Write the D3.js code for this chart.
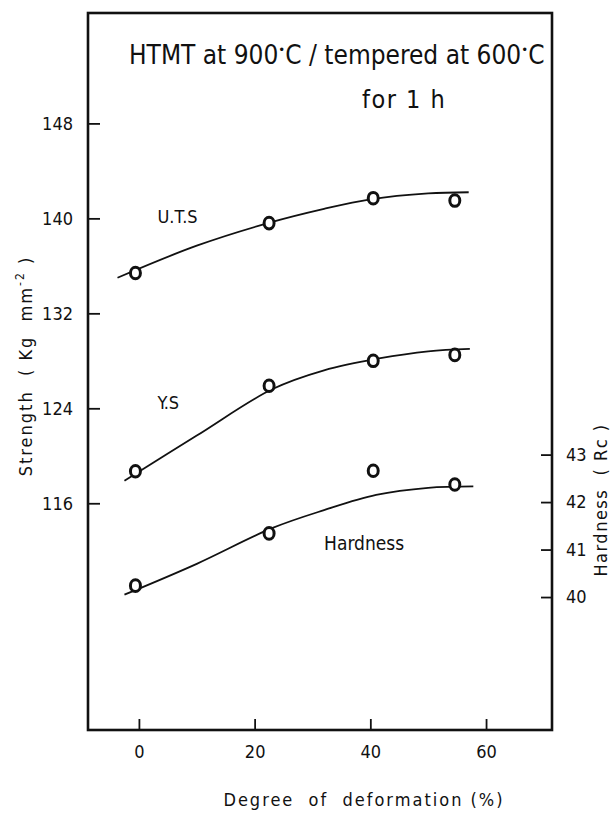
<!DOCTYPE html>
<html>
<head>
<meta charset="utf-8">
<script src="https://cdn.jsdelivr.net/npm/d3@7"></script>
<style>
  body { margin: 0; background: #fff; }
  svg text { font-family: "DejaVu Sans Condensed", "Liberation Sans Narrow", sans-serif; fill: #111; }
</style>
</head>
<body>
<svg width="614" height="814"></svg>
<script>
// degree of deformation (%) for the measured points
let deformation = [-0.6, 22.5, 40.5, 54.6]
let uts = [135.4, 139.6, 141.7, 141.5]
let ys = [118.7, 125.9, 128.0, 128.5]
let hardness = [40.24, 41.34, 42.66, 42.37]

// hand drawn trend curves
let utsCurve = [[-3.7, 135.0], [10, 137.7], [22.3, 139.6], [32, 140.8], [40, 141.6], [50, 142.1], [57, 142.2]]
let ysCurve = [[-2.5, 117.9], [10, 121.7], [23, 125.6], [32, 127.2], [41.5, 128.2], [50, 128.8], [57.2, 129.0]]
let hardCurve = [[-2.5, 40.05], [10, 40.7], [23, 41.45], [32, 41.83], [41, 42.15], [50, 42.3], [57.8, 42.33]]

let xTicks = [0, 20, 40, 60]
let leftTicks = [116, 124, 132, 140, 148]
let rightTicks = [40, 41, 42, 43]

let width = 614
let height = 814
let margin = {top: 13, right: 62, bottom: 84, left: 88}
let innerW = width - margin.left - margin.right
let innerH = height - margin.top - margin.bottom

let svg = d3.select('svg')
let g = svg.append('g').attr('transform', `translate(${margin.left},${margin.top})`)

let xScale = d3.scaleLinear().domain([-8.8, 71.4]).range([0, innerW])
let yLeft = d3.scaleLinear().domain([96.9, 157.3]).range([innerH, 0])
let yRight = d3.scaleLinear().domain([37.2, 52.3]).range([innerH, 0])

// axes, ticks point inwards
let xAxis = g.append('g')
    .attr('transform', `translate(0,${innerH})`)
    .call(d3.axisBottom(xScale).tickValues(xTicks).tickSize(-11).tickPadding(15))
let lAxis = g.append('g')
    .call(d3.axisLeft(yLeft).tickValues(leftTicks).tickSize(-12).tickPadding(15))
let rAxis = g.append('g')
    .attr('transform', `translate(${innerW},0)`)
    .call(d3.axisRight(yRight).tickValues(rightTicks).tickSize(-11).tickPadding(14))

;[xAxis, lAxis, rAxis].forEach(a => {
    a.select('.domain').remove()
    a.selectAll('line').attr('stroke', '#111').attr('stroke-width', 1.8)
    a.selectAll('text').style('font-size', '18px')
})

g.append('rect')
    .attr('width', innerW)
    .attr('height', innerH)
    .attr('fill', 'none')
    .attr('stroke', '#111')
    .attr('stroke-width', 2.6)

let lineLeft = d3.line()
    .x(d => xScale(d[0]))
    .y(d => yLeft(d[1]))
    .curve(d3.curveCatmullRom)
let lineRight = d3.line()
    .x(d => xScale(d[0]))
    .y(d => yRight(d[1]))
    .curve(d3.curveCatmullRom)

let curves = [
    {pts: utsCurve, line: lineLeft},
    {pts: ysCurve, line: lineLeft},
    {pts: hardCurve, line: lineRight}
]
curves.forEach(c => {
    g.append('path')
        .attr('d', c.line(c.pts))
        .attr('fill', 'none')
        .attr('stroke', '#111')
        .attr('stroke-width', 1.8)
})

let drawPoints = (vals, scale) => {
    g.selectAll(null)
        .data(vals)
        .enter()
        .append('ellipse')
        .attr('cx', (d, i) => xScale(deformation[i]))
        .attr('cy', d => scale(d))
        .attr('rx', 5)
        .attr('ry', 5.8)
        .attr('fill', '#fff')
        .attr('stroke', '#111')
        .attr('stroke-width', 3)
}
drawPoints(uts, yLeft)
drawPoints(ys, yLeft)
drawPoints(hardness, yRight)

// curve labels
g.append('text').attr('x', xScale(3.2)).attr('y', yLeft(139.6)).style('font-size', '18px').text('U.T.S')
g.append('text').attr('x', xScale(3.2)).attr('y', yLeft(123.9)).style('font-size', '18px').text('Y.S')
g.append('text').attr('x', xScale(32)).attr('y', yRight(41.0)).style('font-size', '19px').text('Hardness')

// title inside the box
let title = g.append('text')
    .attr('x', 41)
    .attr('y', 51)
    .style('font-size', '26px')
title.append('tspan').text('HTMT at 900')
title.append('tspan').attr('dy', -10).style('font-size', '13px').text('•')
title.append('tspan').attr('dy', 10).text('C / tempered at 600')
title.append('tspan').attr('dy', -10).style('font-size', '13px').text('•')
title.append('tspan').attr('dy', 10).text('C')

g.append('text')
    .attr('x', 274)
    .attr('y', 95)
    .style('font-size', '25px')
    .style('letter-spacing', '1.5px')
    .text('for 1 h')

// axis titles
svg.append('text')
    .attr('transform', 'translate(32,366) rotate(-90)')
    .attr('text-anchor', 'middle')
    .style('font-size', '18px')
    .style('letter-spacing', '2px')
    .style('white-space', 'pre')
    .html('Strength  ( Kg  mm<tspan dy="-8" font-size="12">-2</tspan><tspan dy="8"> )</tspan>')

svg.append('text')
    .attr('transform', 'translate(607,500) rotate(-90)')
    .attr('text-anchor', 'middle')
    .style('font-size', '18px')
    .style('letter-spacing', '1.5px')
    .style('white-space', 'pre')
    .text('Hardness  ( Rc )')

svg.append('text')
    .attr('x', 364)
    .attr('y', 806)
    .attr('text-anchor', 'middle')
    .style('font-size', '18px')
    .style('letter-spacing', '2px')
    .style('white-space', 'pre')
    .text('Degree  of  deformation (%)')
</script>
</body>
</html>
